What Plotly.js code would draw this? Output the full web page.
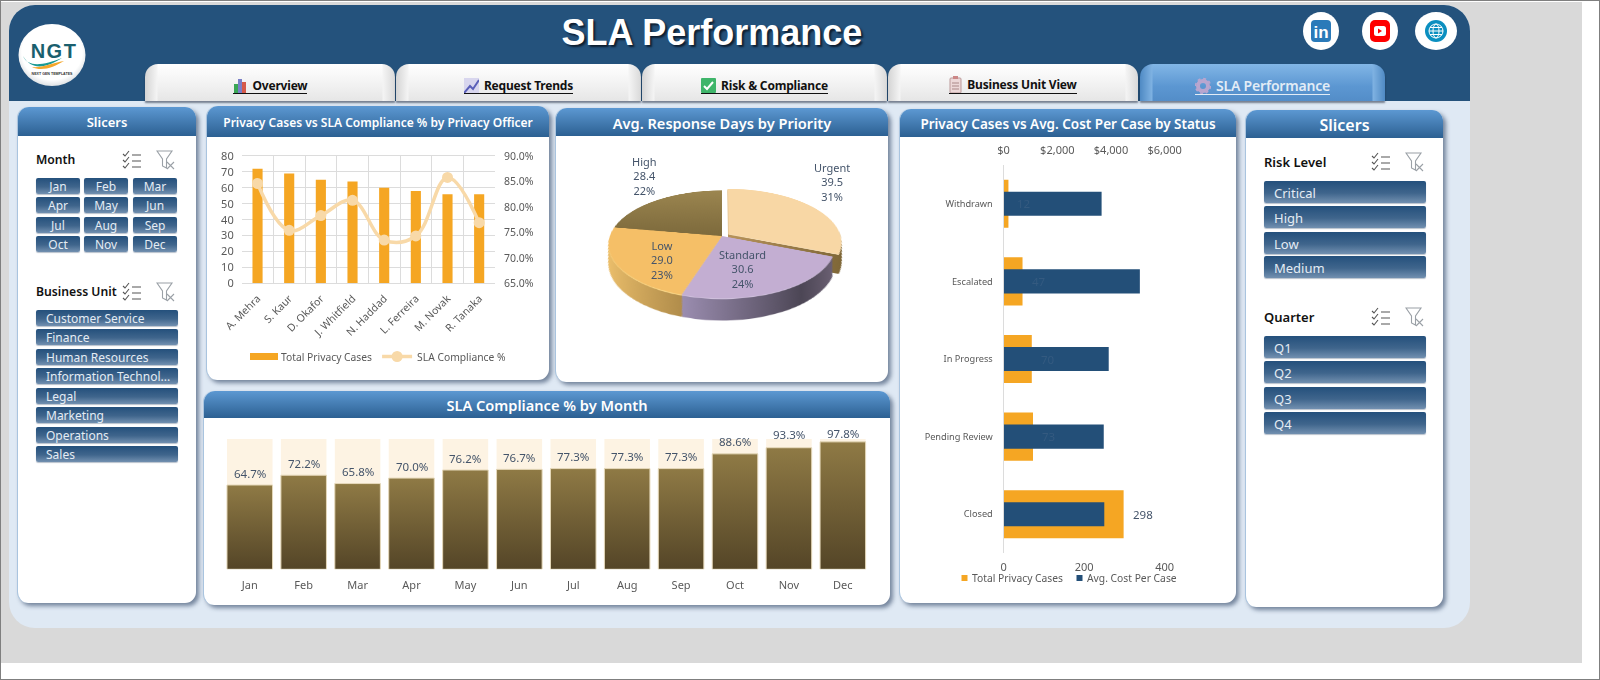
<!DOCTYPE html>
<html><head><meta charset="utf-8"><title>SLA Performance</title>
<script src="https://cdn.plot.ly/plotly-3.0.1.min.js"></script>
<style>
html,body{margin:0;padding:0;background:#fff;width:1600px;height:680px;overflow:hidden;font-family:"Noto Sans",sans-serif}
#stage{position:absolute;left:0;top:0;width:1600px;height:680px;overflow:hidden}
.panel{background:#fff;border-radius:11px;box-shadow:3px 3px 4px rgba(60,80,110,.65);border-left:1px solid #a9c4df}
.phead{position:absolute;left:0;right:0;top:0;border-radius:11px 11px 0 0;background:linear-gradient(#5c98d2,#2c6092);color:#fff;font-weight:600;text-align:center;white-space:nowrap}
.btn{position:absolute;background:linear-gradient(#24507c,#3f658c 55%,#7290b0);color:#e4ecf4;border-radius:2px;white-space:nowrap;box-shadow:0 1px 1px rgba(80,100,130,.4)}
.tab{position:absolute;border-radius:13px 13px 0 0;text-align:center;font-weight:700;color:#111;white-space:nowrap;
background:linear-gradient(90deg,#d4d4d4 0,#f4f4f4 12px,rgba(255,255,255,0) 13px,rgba(255,255,255,0) calc(100% - 13px),#f4f4f4 calc(100% - 12px),#d9d9d9 100%),linear-gradient(#fff,#f3f3f3 50%,#e6e6e6);box-shadow:0 2px 2px rgba(30,40,60,.55)}
.tab.on{background:linear-gradient(90deg,#4f8ac4 0,#7fb2e2 12px,rgba(255,255,255,0) 13px,rgba(255,255,255,0) calc(100% - 13px),#7fb2e2 calc(100% - 12px),#4f8ac4 100%),linear-gradient(#82b6e6,#5c97d2 60%,#538dc8);color:#e2ecf6;font-weight:600}
.tab span.u{display:inline-flex;align-items:center;gap:5px;border-bottom:1px solid currentColor;line-height:13px;padding-bottom:0}
#pie{position:absolute;left:502px;top:16px;width:440px;height:440px;transform-origin:220px 220px;transform:perspective(640px) rotateX(62deg)}
#main{position:absolute;left:0;top:0;width:1600px;height:680px}
</style></head><body><div id="stage"></div>
<script>
// ---- chart data ----
const officers=["A. Mehra","S. Kaur","D. Okafor","J. Whitfield","N. Haddad","L. Ferreira","M. Novak","R. Tanaka"];
const officerCases=[72,69,65,64,60,58,56,56];
const officerSla=[84.6,75.4,78.3,81.3,73.5,74.3,85.8,76.9];
const months=["Jan","Feb","Mar","Apr","May","Jun","Jul","Aug","Sep","Oct","Nov","Dec"];
const monthlySla=[64.7,72.2,65.8,70.0,76.2,76.7,77.3,77.3,77.3,88.6,93.3,97.8];
const monthlyTarget=[100,100,100,100,100,100,100,100,100,100,100,100];
const priorities=["Urgent","Standard","Low","High"];
const priorityDays=[39.5,30.6,29.0,28.4];
const statuses=["Withdrawn","Escalated","In Progress","Pending Review","Closed"];
const statusCases=[12,47,70,73,298];
const statusCost=[3650,5075,3915,3730,3750];
const monthSlicer=months;
const unitSlicer=["Customer Service","Finance","Human Resources","Information Technol...","Legal","Marketing","Operations","Sales"];
const riskSlicer=["Critical","High","Low","Medium"];
const quarterSlicer=["Q1","Q2","Q3","Q4"];
const tabNames=["Overview","Request Trends","Risk & Compliance","Business Unit View","SLA Performance"];

// ---- static dashboard chrome ----
const stage=document.getElementById('stage');
function el(cls,l,t,w,h,css,html){const d=document.createElement('div');d.className=cls;
 d.style.cssText=`position:absolute;left:${l}px;top:${t}px;width:${w}px;height:${h}px;box-sizing:border-box;`+(css||'');
 if(html!==undefined)d.innerHTML=html;stage.appendChild(d);return d;}
el('',0,0,1600,680,'border:1px solid #7f7f7f;background:#fff;');
el('',1,2,1581,661,'background:#d9d9d9;');
el('',9,5,1461,623,'background:#dfe9f4;border-radius:26px;');
el('',9,5,1461,96,'background:#24527c;border-radius:26px 26px 0 0;');
el('',391,8,642,50,`font:700 36px/50px "Liberation Sans",sans-serif;color:#fff;text-align:center;text-shadow:2px 2px 2px #0e1e30;`,'SLA Performance');

const logo=`<svg width="68" height="64" viewBox="0 0 68 64"><defs><radialGradient id="lg" cx=".5" cy=".45" r=".6"><stop offset=".75" stop-color="#fff"/><stop offset="1" stop-color="#cfd4d8"/></radialGradient></defs>
<ellipse cx="34" cy="32" rx="33.5" ry="31" fill="url(#lg)"/>
<text x="36" y="35" text-anchor="middle" font-family="Liberation Sans" font-weight="700" font-size="20" letter-spacing="1.5" fill="#1a5f6e">NGT</text>
<path d="M5 33 C10 45 26 42 44 35 C30 44 14 49 5 33Z" fill="#1b9a94"/><path d="M14 44 C24 45 34 40 46 38 C36 44 24 49 14 44Z" fill="#f4a62a"/>
<text x="34" y="52" text-anchor="middle" font-family="Liberation Sans" font-weight="700" font-size="3.6" fill="#333">NEXT GEN TEMPLATES</text></svg>`;
el('',18,23,68,64,'',logo);
el('',1303,12,36,38,'background:#fff;border-radius:50%;','<svg width="36" height="38"><rect x="8" y="8" width="20" height="22" rx="4" fill="#2a7ab9"/><text x="18" y="26" text-anchor="middle" font-family="Liberation Sans" font-weight="700" font-size="17" fill="#fff">in</text></svg>');
el('',1362,12,36,38,'background:#fff;border-radius:50%;','<svg width="36" height="38"><rect x="8" y="8" width="20" height="22" rx="5" fill="#f00"/><rect x="12" y="14" width="12" height="10" rx="2.5" fill="#fff"/><path d="M16 16.5l4 2.5-4 2.5z" fill="#f00"/></svg>');
el('',1415,12,42,38,'background:#fff;border-radius:50%;','<svg width="42" height="38"><circle cx="21" cy="19" r="11" fill="#0b8fc0"/><circle cx="21" cy="19" r="7" fill="none" stroke="#fff" stroke-width="1"/><ellipse cx="21" cy="19" rx="3" ry="7" fill="none" stroke="#fff" stroke-width="1"/><path d="M14 19h14M15 15.5h12M15 22.5h12" stroke="#fff" stroke-width="1"/></svg>');

const tabIcons=[
 '<svg width="15" height="15"><rect x="1" y="6" width="4" height="9" fill="#3aa655"/><rect x="5" y="1" width="4" height="14" fill="#7a7fc8"/><rect x="9" y="4" width="4" height="11" fill="#d65a4a"/></svg>',
 '<svg width="15" height="15"><rect width="15" height="15" fill="#d8d6ee"/><path d="M0 15L6 8l3 3 6-9" fill="none" stroke="#5a5fb8" stroke-width="2"/></svg>',
 '<svg width="15" height="15"><rect width="15" height="15" rx="1" fill="#3fb56a"/><path d="M3 8l3 3 6-7" fill="none" stroke="#fff" stroke-width="2"/></svg>',
 '<svg width="13" height="17"><rect x="1" y="2" width="11" height="15" rx="1" fill="#ecd8d8" stroke="#b99"/><rect x="4" y="0" width="5" height="3" fill="#c88"/><path d="M3 7h7M3 10h7M3 13h7" stroke="#a88" stroke-width="1"/></svg>',
 '<svg width="16" height="17"><circle cx="8" cy="9" r="5" fill="none" stroke="#b9a6cf" stroke-width="4"/><circle cx="8" cy="9" r="7.4" fill="none" stroke="#b9a6cf" stroke-width="1.6" stroke-dasharray="3 2.8"/></svg>'];
const tabBoxes=[[145,250,12],[396,245,12],[642,245,12],[888,250,12],[1140,245,14]];
tabBoxes.forEach((b,i)=>{el('tab'+(i==4?' on':''),b[0],64,b[1],37,`font-size:${b[2]}px;line-height:49px;letter-spacing:-.2px;`,`<span class="u">${tabIcons[i]}<span>${tabNames[i].replace('&','&amp;')}</span></span>`);});

function panel(l,t,r,hb,b,title,fs){
 const p=el('panel',l,t,r-l,b-t);
 const h=document.createElement('div');h.className='phead';h.style.height=(hb-t)+'px';h.style.fontSize=fs+'px';h.style.lineHeight=(hb-t+2)+'px';h.textContent=title;p.appendChild(h);
}
panel(17,107,196,136,603,'Slicers',13);
panel(206,106,549,137,380,'Privacy Cases vs SLA Compliance % by Privacy Officer',12);
panel(555,108,888,136,382,'Avg. Response Days by Priority',14.6);
panel(203,391,890,418,605,'SLA Compliance % by Month',14.6);
panel(899,109,1236,137,603,'Privacy Cases vs Avg. Cost Per Case by Status',13.5);
panel(1245,110,1443,138,607,'Slicers',16);

const checkIcon=`<svg width="20" height="20" viewBox="0 0 20 20" fill="none" stroke="#555" stroke-width="1.1"><path d="M1 4l2 2 4-5M1 10l2 2 4-5M1 16l2 2 4-5"/><path d="M10 5h9M10 11h9M10 17h9"/></svg>`;
const filterIcon=`<svg width="20" height="20" viewBox="0 0 20 20" fill="none" stroke="#9aa0a6" stroke-width="1.1"><path d="M1 1h15l-5.5 8v9l-4-2V9z"/><path d="M11 12l7 7M18 12l-7 7"/></svg>`;
function heading(txt,x,y,ic1,ic2,fs){
 el('',x,y-11,130,22,`font-weight:600;font-size:${fs}px;line-height:22px;color:#111;white-space:nowrap;`,txt);
 el('',ic1-10,y-10,20,20,'',checkIcon);el('',ic2-10,y-10,20,20,'',filterIcon);
}
heading('Month',36,160,132,166,12.2);
monthSlicer.forEach((m,i)=>{const c=i%3,r=Math.floor(i/3);
 el('btn',[36,84,133][c],[178,197,217,236][r],44,16,'font-size:12px;line-height:18px;text-align:center;',m);});
heading('Business Unit',36,292,132,166,12.2);
const unitTops=[310,329,349,368,388,407,427,446];
unitSlicer.forEach((m,i)=>el('btn',36,unitTops[i],142,16,'font-size:12px;line-height:18px;padding-left:10px;',m));
heading('Risk Level',1264,162,1381,1415,13);
const riskTops=[181,206,232,256];
riskSlicer.forEach((m,i)=>el('btn',1264,riskTops[i],162,22,'font-size:13px;line-height:24px;padding-left:10px;',m));
heading('Quarter',1264,317,1381,1415,13);
const quarterTops=[336,361,387,412];
quarterSlicer.forEach((m,i)=>el('btn',1264,quarterTops[i],162,22,'font-size:13px;line-height:24px;padding-left:10px;',m));

const pieDiv=document.createElement('div');pieDiv.id='pie';stage.appendChild(pieDiv);
const mainDiv=document.createElement('div');mainDiv.id='main';stage.appendChild(mainDiv);

// ---- pie (tilted with a CSS transform, walls are stacked pie layers) ----
const pieFaces=['#f8d7a5','#c3aed2','#f5bf67','#8a7644'];
const pieWalls=['#8a6f3c','#6d6378','#c49b52','#7a6738'];
const pieEdge=['#f3dcb6','#cfc0dc','#fbd98a','#8a7644'];
const PS=440,half=120/PS,depth=19,step=2,shrink=.883/640,pullOut=[0.07,0,0,0];
const pieTraces=[];
function pieLayer(colors,off){const h=half*(1-off*shrink);return {type:'pie',labels:priorities,values:priorityDays,sort:false,direction:'clockwise',rotation:0,pull:pullOut,
 textinfo:'none',hoverinfo:'skip',showlegend:false,marker:{colors:colors,line:{width:0}},
 domain:{x:[.5-h,.5+h],y:[.5-h-off/PS,.5+h-off/PS]}};}
for(let k=depth;k>=1;k--)pieTraces.push(pieLayer(pieWalls,k*step));
pieTraces.push(pieLayer(pieEdge,1.5));
pieTraces.push(pieLayer(pieFaces,0));
const pieDone=Plotly.newPlot(pieDiv,pieTraces,{width:PS,height:PS,margin:{l:0,r:0,t:0,b:0},paper_bgcolor:'rgba(0,0,0,0)',plot_bgcolor:'rgba(0,0,0,0)'},{staticPlot:true,displayModeBar:false});

// ---- cartesian charts ----
const W=1600,H=680,dx=(a,b)=>[a/W,b/W],dy=(t,b)=>[1-b/H,1-t/H];
const inkFont='"Noto Sans",sans-serif',ink='#595959',grid='#dcdcdc';
const barFill='rgb(126,106,62)';
const traces=[
 {type:'bar',name:'Total Privacy Cases',x:officers,y:officerCases,xaxis:'x',yaxis:'y',width:.32,marker:{color:'#f5a623'},hoverinfo:'skip'},
 {type:'scatter',mode:'lines+markers',name:'SLA Compliance %',x:officers,y:officerSla,xaxis:'x',yaxis:'y2',line:{color:'#f8d9a8',width:3.5,shape:'spline',smoothing:1.1},marker:{color:'#f8d9a8',size:11},hoverinfo:'skip'},
 {type:'bar',x:months,y:monthlyTarget,xaxis:'x3',yaxis:'y3',width:.845,marker:{color:'#fdf3e3'},showlegend:false,hoverinfo:'skip'},
 {type:'bar',x:months,y:monthlySla,xaxis:'x3',yaxis:'y3',width:.845,marker:{color:barFill,line:{color:'#e6d9bb',width:1}},showlegend:false,hoverinfo:'skip'},
 {type:'bar',name:'Total Privacy Cases',orientation:'h',x:statusCases,y:statuses,xaxis:'x4',yaxis:'y4',width:.62,marker:{color:'#f5a623'},legend:'legend2',hoverinfo:'skip'},
 {type:'bar',name:'Avg. Cost Per Case',orientation:'h',x:statusCost,y:statuses,xaxis:'x5',yaxis:'y5',width:.31,marker:{color:'#234f78'},legend:'legend2',hoverinfo:'skip'}
];
const noLine={showline:false,zeroline:false,ticks:'',fixedrange:true};
const pieNotes=priorities.map((p,i)=>{const tot=priorityDays.reduce((a,b)=>a+b,0);
 return p+'<br>'+priorityDays[i].toFixed(1)+'<br>'+Math.round(priorityDays[i]/tot*100)+'%';});
const pieNoteAt=[[832,182],[742,269],[662,260],[644,176]];
const annotations=pieNotes.map((t,i)=>({xref:'paper',yref:'paper',x:pieNoteAt[i][0]/W,y:1-pieNoteAt[i][1]/H,text:t,showarrow:false,font:{size:11,color:'#44546a',family:inkFont},xanchor:'center',yanchor:'middle'}));
statuses.forEach((s,i)=>annotations.push({xref:'x4',yref:'y4',x:statusCases[i],y:s,text:String(statusCases[i]),showarrow:false,xanchor:'left',yanchor:'middle',xshift:7,
 font:{size:11.5,color:i==4?'#44546a':'#345a80',family:inkFont}}));
months.forEach((m,i)=>annotations.push({xref:'x3',yref:'y3',x:m,y:monthlySla[i],text:monthlySla[i].toFixed(1)+'%',showarrow:false,xanchor:'center',yanchor:'middle',yshift:i==11?8:(i==10?13:12),
 font:{size:11.5,color:'#44546a',family:inkFont}}));
const tf=(s)=>({size:s,color:ink,family:inkFont});
const layout={width:W,height:H,margin:{l:0,r:0,t:0,b:0,pad:0},paper_bgcolor:'rgba(0,0,0,0)',plot_bgcolor:'rgba(0,0,0,0)',barmode:'overlay',hovermode:false,
 xaxis:{...noLine,domain:dx(241.7,495),anchor:'y',type:'category',range:[-.5,7.5],tickson:'boundaries',tickangle:-45,tickfont:tf(10.5),showgrid:true,gridcolor:grid,gridwidth:1,showline:true,linecolor:grid,mirror:true,ticklabelstandoff:4},
 yaxis:{...noLine,domain:dy(156,283.3),anchor:'x',range:[0,80],dtick:10,tickfont:tf(11),showgrid:true,gridcolor:grid,gridwidth:1,ticklabelstandoff:7},
 yaxis2:{...noLine,overlaying:'y',anchor:'x',side:'right',range:[65,90],dtick:5,tickformat:'.1f',ticksuffix:'%',tickfont:tf(10.5),showgrid:false,ticklabelstandoff:8},
 xaxis3:{...noLine,domain:dx(222.8,869.8),anchor:'y3',type:'category',range:[-.5,11.5],tickfont:tf(11),showgrid:false,ticklabelstandoff:8},
 yaxis3:{...noLine,domain:dy(439,569.3),anchor:'x3',range:[0,100],visible:false},
 xaxis4:{...noLine,domain:dx(1003.6,1164.7),anchor:'y4',range:[0,400],dtick:200,tickfont:tf(11),showgrid:false,ticklabelstandoff:6},
 yaxis4:{...noLine,domain:dy(165,553),anchor:'x4',type:'category',categoryorder:'array',categoryarray:statuses,range:[4.5,-.5],tickfont:tf(9.2),showgrid:false,showline:true,linecolor:grid,ticklabelstandoff:8},
 xaxis5:{...noLine,overlaying:'x4',anchor:'y5',side:'top',range:[0,6000],dtick:2000,tickformat:'$,d',tickfont:tf(11),showgrid:false,ticklabelstandoff:8},
 yaxis5:{...noLine,overlaying:'y4',anchor:'x5',type:'category',categoryorder:'array',categoryarray:statuses,range:[4.5,-.5],visible:false},
 legend:{orientation:'h',x:241/W,y:1-356.5/H,xanchor:'left',yanchor:'middle',bgcolor:'rgba(0,0,0,0)',font:tf(10.3),itemwidth:30,traceorder:'normal'},
 legend2:{orientation:'h',x:932/W,y:1-578/H,xanchor:'left',yanchor:'middle',bgcolor:'rgba(0,0,0,0)',font:tf(10.3),itemwidth:30,entrywidth:70,entrywidthmode:'pixels',traceorder:'normal'},
 annotations:annotations
};
const mainDone=Plotly.newPlot(mainDiv,traces,layout,{staticPlot:true,displayModeBar:false});

// ---- gradients and swatches Plotly has no attribute for ----
const NS='http://www.w3.org/2000/svg';
function addGrad(svg,id,x2,y2,stops){let defs=svg.querySelector('defs');if(!defs){defs=document.createElementNS(NS,'defs');svg.insertBefore(defs,svg.firstChild);}
 const g=document.createElementNS(NS,'linearGradient');g.id=id;g.setAttribute('x1',0);g.setAttribute('y1',0);g.setAttribute('x2',x2);g.setAttribute('y2',y2);
 stops.forEach(s=>{const t=document.createElementNS(NS,'stop');t.setAttribute('offset',s[0]);t.setAttribute('stop-color',s[1]);g.appendChild(t);});defs.appendChild(g);}
function fixSwatches(){
 mainDiv.querySelectorAll('g.legendpoints path').forEach(p=>{
  const d=p.getAttribute('d')||'';if(!/^M6,6H-6V-6H6Z/.test(d))return;
  const inSecond=!!p.closest('.legend2');
  p.setAttribute('d',inSecond?'M15.5,3H9.5V-3H15.5Z':'M17,3.5H-11V-3.5H17Z');
 });
 // the narrow entry width of the second legend must not clip its last label
 mainDiv.querySelectorAll('.legend2 .scrollbox, .legend2 [clip-path]').forEach(n=>{n.removeAttribute('clip-path');n.style.clipPath='none';});
}
mainDone.then(()=>{
 const svg=mainDiv.querySelector('.main-svg');
 addGrad(svg,'monthBar',0,1,[[0,'#8f7a45'],[1,'#544527']]);
 mainDiv.querySelectorAll('.bars .point path').forEach(p=>{if((p.style.fill||'').replace(/\s/g,'')===barFill.replace(/\s/g,''))p.style.fill='url(#monthBar)';});
 fixSwatches();
});
pieDone.then(()=>{
 const svg=pieDiv.querySelector('.main-svg');
 addGrad(svg,'wStd',1,0,[[0,'#9b8db0'],[.75,'#4c4655'],[1,'#6b6073']]);
 addGrad(svg,'wLow',1,0,[[0,'#edc06c'],[1,'#96763c']]);
 addGrad(svg,'wUrg',1,0,[[0,'#b8935a'],[1,'#7c6536']]);
 addGrad(svg,'fHigh',0,1,[[0,'#9c8650'],[1,'#7d6a3c']]);
 const tr=pieDiv.querySelectorAll('.pielayer .trace');
 tr.forEach((t,i)=>{const sl=t.querySelectorAll('.slice path.surface');
  if(i<depth){if(sl[0])sl[0].style.fill='url(#wUrg)';if(sl[1])sl[1].style.fill='url(#wStd)';if(sl[2])sl[2].style.fill='url(#wLow)';}
  if(i==tr.length-1&&sl[3])sl[3].style.fill='url(#fHigh)';});
});
</script></body></html>
